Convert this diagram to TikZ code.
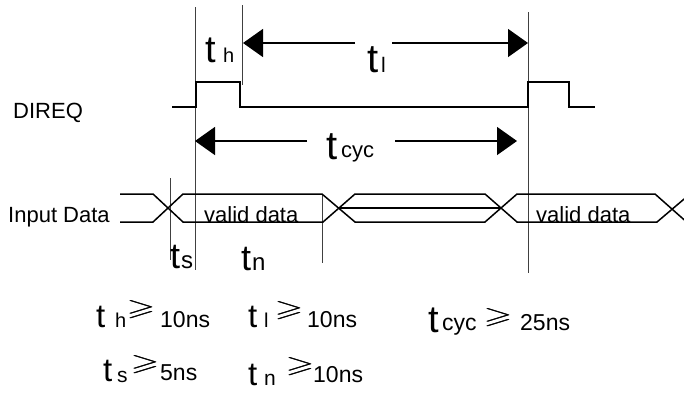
\documentclass[tikz,border=0pt]{standalone}
\usepackage{fontspec}
\setmainfont{Liberation Sans}
\usepackage{amssymb}
\usetikzlibrary{arrows.meta}
\newcommand\fs[1]{\fontsize{#1}{#1}\selectfont}
\newcommand\geqbig{\resizebox{29pt}{15pt}{\makebox[0pt][l]{$\geqslant$}\kern0.25pt$\geqslant$}}
\begin{document}
\begin{tikzpicture}[x=1pt,y=-1pt,
  guide/.style={draw=black!75, line width=0.8pt},
  sig/.style={draw=black, line width=1.8pt},
  bus/.style={draw=black, line width=1.5pt},
  dimline/.style={draw=black, line width=1.5pt, -{Triangle[length=20pt,width=28pt]}},
  lbl/.style={inner sep=0pt, anchor=base west, font=\fs{22}},
  val/.style={inner sep=0pt, anchor=base west, font=\fs{23}},
  geq/.style={inner sep=0pt, anchor=center}]
\useasboundingbox (0,0) rectangle (684,392);
\begin{scope}
\clip (0,0) rectangle (684,392);
% guide lines
\draw[guide] (195,7) -- (195,270);
\draw[guide] (242,5) -- (242,85);
\draw[guide] (528,12) -- (528,273);
\draw[guide] (322,195) -- (322,263);
\draw[guide] (170,178) -- (170,260);
% DIREQ
\draw[sig] (172,107) -- (196,107) -- (196,82) -- (240,82) -- (240,107) -- (528,107) -- (528,82) -- (569,82) -- (569,107) -- (595,107);
% bus
\draw[bus] (120,194) -- (153,194) -- (183,222) -- (323,222) -- (355,194) -- (485,194) -- (517,222) -- (657,222) -- (690,194);
\draw[bus] (120,222) -- (153,222) -- (183,194) -- (322,194) -- (355,222) -- (485,222) -- (517,194) -- (655,194) -- (690,225);
\draw[bus] (338,208) -- (502,208);
\end{scope}
% dimension arrows
\coordinate (thtip) at (243,43);
\coordinate (thend) at (355,43);
\coordinate (tlst) at (392,43);
\coordinate (tltip) at (528,43);
\coordinate (tcl) at (195,141);
\coordinate (tclend) at (307,141);
\coordinate (tcrst) at (395,141);
\coordinate (tcr) at (517,141);
\draw[dimline] (thend) -- (thtip);
\draw[dimline] (tlst) -- (tltip);
\draw[dimline] (tclend) -- (tcl);
\draw[dimline] (tcrst) -- (tcr);
% labels
\node[lbl] (direq) at (13,118) {DIREQ};
\node[lbl] (indata) at (8,222) {Input Data};
\node[lbl] (vd1) at (204,222) {valid data};
\node[lbl] (vd2) at (536,222) {valid data};
% timing labels
\node[lbl,font=\fs{38}] (tht) at (205,62) {t};
\node[lbl,font=\fs{20}] (ths) at (223,62) {h};
\node[lbl,font=\fs{40}] (tlt) at (367,72) {t};
\node[lbl,font=\fs{21}] (tls) at (381,72) {l};
\node[lbl,font=\fs{40}] (tct) at (326,159) {t};
\node[lbl,font=\fs{22}] (tcs) at (341,157) {cyc};
\node[lbl,font=\fs{36}] (tst) at (170,268) {t};
\node[lbl,font=\fs{24}] (tss) at (181,268) {s};
\node[lbl,font=\fs{36}] (tnt) at (241,270) {t};
\node[lbl,font=\fs{24}] (tns) at (252,270) {n};
% bottom formulas
\node[lbl,font=\fs{33}] (f1t) at (96,327) {t};
\node[lbl,font=\fs{20}] (f1s) at (115,327) {h};
\node[geq] (g1) at (141,310) {\geqbig};
\node[val] (v1) at (160,327) {10ns};
\node[lbl,font=\fs{33}] (f2t) at (248,327) {t};
\node[lbl,font=\fs{20}] (f2s) at (264,327) {l};
\node[geq] (g2) at (289,311) {\geqbig};
\node[val] (v2) at (307,327) {10ns};
\node[lbl,font=\fs{38}] (f3t) at (428,332) {t};
\node[lbl,font=\fs{23}] (f3s) at (442,330) {cyc};
\node[geq] (g3) at (498,318) {\geqbig};
\node[val] (v3) at (520,330) {25ns};
\node[lbl,font=\fs{33}] (f4t) at (103,381) {t};
\node[lbl,font=\fs{21}] (f4s) at (117,382) {s};
\node[geq] (g4) at (145,365) {\geqbig};
\node[val] (v4) at (160,380) {5ns};
\node[lbl,font=\fs{33}] (f5t) at (248,385) {t};
\node[lbl,font=\fs{21}] (f5s) at (264,385) {n};
\node[geq] (g5) at (300,367) {\geqbig};
\node[val] (v5) at (313,382) {10ns};
\end{tikzpicture}
\end{document}
